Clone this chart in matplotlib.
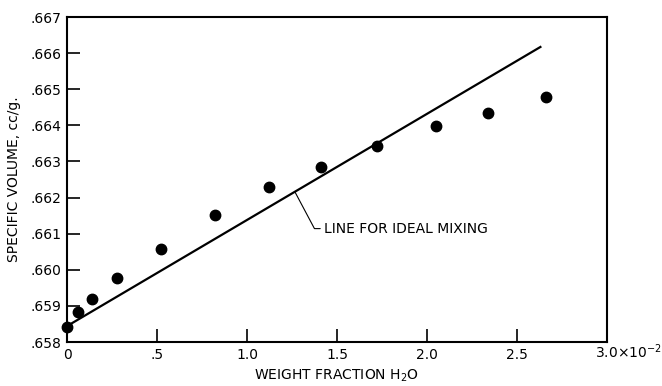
import matplotlib
matplotlib.use("Agg")
import matplotlib.pyplot as plt

# data (x in units of 1e-2 weight fraction)
x_pts = [0.0, 0.06, 0.14, 0.28, 0.52, 0.82, 1.12, 1.41, 1.72, 2.05, 2.34, 2.66]
y_pts = [0.65842, 0.65883, 0.65919, 0.65977, 0.66058, 0.66152, 0.66229,
         0.66285, 0.66343, 0.66398, 0.66434, 0.66479]
line_x = [0.0, 2.63]
line_y = [0.65844, 0.66617]
x_ticks = [0, 0.5, 1.0, 1.5, 2.0, 2.5, 3.0]
x_labels = ["0", ".5", "1.0", "1.5", "2.0", "2.5", ""]
y_ticks = [0.658, 0.659, 0.660, 0.661, 0.662, 0.663, 0.664, 0.665, 0.666, 0.667]
y_labels = [".658", ".659", ".660", ".661", ".662", ".663", ".664", ".665", ".666", ".667"]

plt.rcParams['font.family'] = ['DejaVu Sans']
fig = plt.figure(figsize=(6.62, 3.86), dpi=100)
ax = fig.add_axes([67/662, 1-342/386, (607-67)/662, (342-17)/386])

ax.plot(line_x, line_y, color='black', lw=1.6)
ax.plot(x_pts, y_pts, 'o', color='black', ms=7.5, clip_on=False)

ax.set_xlim(0, 3.0)
ax.set_ylim(0.658, 0.667)
ax.set_xticks(x_ticks)
ax.set_xticklabels(x_labels, fontsize=10)
ax.set_yticks(y_ticks)
ax.set_yticklabels(y_labels, fontsize=10)
ax.tick_params(direction='in', length=9.5, width=1.2, pad=4, top=False, right=False)
for s in ax.spines.values():
    s.set_linewidth(1.5)

ax.annotate('3.0×10$^{-2}$', xy=(1, 0), xycoords='axes fraction',
            xytext=(-8.5, -11.8), textcoords='offset points', ha='left', va='baseline',
            fontsize=10)

ax.annotate('LINE FOR IDEAL MIXING', xy=(1.267, 0.66215), xytext=(1.43, 0.66114),
            ha='left', va='center', fontsize=10,
            arrowprops=dict(arrowstyle='-', lw=0.8, color='black', shrinkA=1, shrinkB=0,
                            connectionstyle='angle,angleA=0,angleB=118,rad=0'))

ax.set_xlabel('WEIGHT FRACTION H$_2$O', fontsize=10, labelpad=4)
ax.set_ylabel('SPECIFIC VOLUME, cc/g.', fontsize=10, labelpad=7)

fig.savefig('out.png', dpi=100)
